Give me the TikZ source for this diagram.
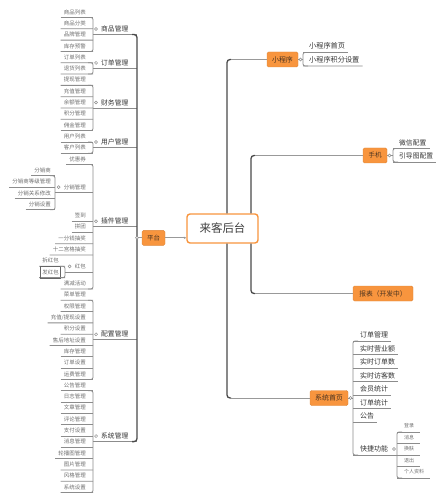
\documentclass[tikz,border=0pt]{standalone}
\usepackage{fontspec}
\setmainfont{Noto Sans CJK SC}
\usetikzlibrary{arrows.meta,calc}
\definecolor{org}{HTML}{F8953E}
\definecolor{orgtxt}{HTML}{4A3320}
\definecolor{leaftxt}{HTML}{6E6E6E}
\definecolor{ln}{HTML}{8C8C8C}
\definecolor{dk}{HTML}{4A4A4A}
\newcommand\mmleaf[4]{% index, right x, bracket x, text
  \pgfmathsetmacro\yy{12+11.31*(#1-1)}%
  \node[leaf] (L#1) at (#2,\yy) {#4};
  \draw[uline] (L#1.west) ++(-3,5.5) -- (#3,\yy+5.5);
}
\newcommand\mmlbr[3]{% x, first index, last index
  \pgfmathsetmacro\ya{12+11.31*(#2-1)+5.5}%
  \pgfmathsetmacro\yb{12+11.31*(#3-1)+5.5}%
  \draw[uline, rounded corners=2bp] (#1-5,\ya) -- (#1,\ya) -- (#1,\yb) -- (#1-5,\yb);
}
\newcommand\mmrbr[3]{% x, ytop, ybot
  \draw[uline, rounded corners=2bp] (#1+5,#2) -- (#1,#2) -- (#1,#3) -- (#1+5,#3);
}
\begin{document}
\begin{tikzpicture}[x=1bp,y=-1bp,
  leaf/.style={font=\fontsize{5.5}{6}\selectfont, text=leaftxt, inner sep=0pt, anchor=east},
  cat/.style={font=\fontsize{6.8}{8}\selectfont, text=black!80, inner sep=0pt, anchor=west},
  rleaf/.style={font=\fontsize{7}{8}\selectfont, text=black!80, inner sep=0pt, anchor=west},
  sleaf/.style={font=\fontsize{5}{6}\selectfont, text=leaftxt, inner sep=0pt, anchor=west},
  obox/.style={fill=org, draw=org!90!black, line width=0.4bp, rounded corners=1.5bp, text=orgtxt, font=\fontsize{6.5}{7}\selectfont, inner sep=0pt, minimum height=15bp},
  uline/.style={draw=ln, line width=0.8bp},
  hline/.style={draw=black!40, line width=1bp},
  spine/.style={draw=dk, line width=1.3bp},
  knob/.style={circle, draw=ln, fill=white, line width=0.5bp, inner sep=0pt, minimum size=3bp},
]
\useasboundingbox (0,0) rectangle (445,500);

% ---------- root ----------
\node[draw=org, line width=1.4bp, fill=white, rounded corners=3bp, minimum width=71bp, minimum height=29bp, font=\fontsize{11.5}{12}\selectfont, text=black!75] (root) at (222.5,228.5) {来客后台};

% ---------- left leaves ----------
\mmleaf{1}{86}{93}{商品列表}
\mmleaf{2}{86}{93}{商品分类}
\mmleaf{3}{86}{93}{品牌管理}
\mmleaf{4}{86}{93}{库存预警}
\mmleaf{5}{86}{93}{订单列表}
\mmleaf{6}{86}{93}{退货列表}
\mmleaf{7}{86}{93}{提现管理}
\mmleaf{8}{86}{93}{充值管理}
\mmleaf{9}{86}{93}{余额管理}
\mmleaf{10}{86}{93}{积分管理}
\mmleaf{11}{86}{93}{佣金管理}
\mmleaf{12}{86}{93}{用户列表}
\mmleaf{13}{86}{93}{客户列表}
\mmleaf{14}{86}{93}{优惠券}
\mmleaf{15}{51}{55}{分销商}
\mmleaf{16}{51}{55}{分销商等级管理}
\mmleaf{17}{51}{55}{分销关系修改}
\mmleaf{18}{51}{55}{分销设置}
\mmleaf{19}{86}{93}{签到}
\mmleaf{20}{86}{93}{拼团}
\mmleaf{21}{86}{93}{一分钱抽奖}
\mmleaf{22}{86}{93}{十二宫格抽奖}
\mmleaf{23}{59}{65}{拆红包}
\mmleaf{24}{59}{65}{发红包}
\mmleaf{25}{86}{93}{满减活动}
\mmleaf{26}{86}{93}{菜单管理}
\mmleaf{27}{86}{93}{权限管理}
\mmleaf{28}{86}{93}{充值/提现设置}
\mmleaf{29}{86}{93}{积分设置}
\mmleaf{30}{86}{93}{售后地址设置}
\mmleaf{31}{86}{93}{库存管理}
\mmleaf{32}{86}{93}{订单设置}
\mmleaf{33}{86}{93}{运费管理}
\mmleaf{34}{86}{93}{公告管理}
\mmleaf{35}{86}{93}{日志管理}
\mmleaf{36}{86}{93}{文章管理}
\mmleaf{37}{86}{93}{评论管理}
\mmleaf{38}{86}{93}{支付设置}
\mmleaf{39}{86}{93}{消息管理}
\mmleaf{40}{86}{93}{轮播图管理}
\mmleaf{41}{86}{93}{图片管理}
\mmleaf{42}{86}{93}{风格管理}
\mmleaf{43}{86}{93}{系统设置}
\draw[draw=black!60, line width=0.5bp] (40,266) rectangle (60.5,278);

% brackets
\mmlbr{93}{1}{4}
\mmlbr{93}{5}{6}
\mmlbr{93}{7}{11}
\mmlbr{93}{12}{13}
\mmlbr{93}{14}{25}
\mmlbr{93}{26}{33}
\mmlbr{93}{34}{43}
\mmlbr{55}{15}{18}
\mmlbr{65}{23}{24}

% sub-branches
\node[leaf] (fx) at (86,187.15) {分销管理};
\draw[uline] (55,192.65) -- (93,192.65);
\node[knob] at ($(fx.west)+(-5,0)$) {};
\node[leaf] (hb) at (86,266.45) {红包};
\draw[uline] (65,271.95) -- (93,271.95);
\node[knob] at ($(hb.west)+(-5,0)$) {};

% categories
\foreach \n/\y/\t in {c1/29.0/商品管理, c2/62.9/订单管理, c3/102.5/财务管理, c4/142.05/用户管理, c5/221.2/插件管理, c6/334.35/配置管理, c7/436.1/系统管理}{
  \node[cat] (\n) at (101,\y) {\t};
  \draw[uline] (93,\y+5.5) -- (137,\y+5.5);
  \node[knob] at (96,\y) {};
}
\draw[spine, rounded corners=3bp] (132,34.5) -- (137,34.5) -- (137,441.6) -- (132,441.6);

% 平台
\node[obox, minimum width=23bp] (pt) at (153.5,237.8) {平台};
\draw[hline] (137,237.8) -- (pt.west);
\draw[hline, -{Stealth[length=2.5bp,width=2.5bp]}] (pt.east) -- (pt.east -| root.west);
\node[knob] at (137,237.8) {};

% ---------- right side ----------
\node[obox, minimum width=31bp, font=\fontsize{7}{8}\selectfont] (xcx) at (282.5,59.5) {小程序};
\node[obox, minimum width=24bp] (sj) at (375,155.5) {手机};
\node[obox, minimum width=60bp, font=\fontsize{6.8}{8}\selectfont] (bb) at (383,293.5) {报表（开发中）};
\node[obox, minimum width=38bp, font=\fontsize{7}{8}\selectfont] (xt) at (329,398) {系统首页};

\coordinate (s1) at (227,0);
\coordinate (s2) at (251,0);
\draw[spine, rounded corners=3bp] (root.north -| s1) -- (s1 |- xcx) -- ++(4,0);
\draw[hline] ($(s1 |- xcx)+(4,0)$) -- (xcx.west);
\draw[spine, rounded corners=3bp] (root.south -| s1) -- (s1 |- xt) -- ++(4,0);
\draw[hline] ($(s1 |- xt)+(4,0)$) -- (xt.west);
\draw[spine, rounded corners=3bp] (root.north -| s2) -- (s2 |- sj) -- ++(4,0);
\draw[hline] ($(s2 |- sj)+(4,0)$) -- (sj.west);
\draw[spine, rounded corners=3bp] (root.south -| s2) -- (s2 |- bb) -- ++(4,0);
\draw[hline] ($(s2 |- bb)+(4,0)$) -- (bb.west);

% 小程序 children
\node[rleaf, font=\fontsize{7.2}{8}\selectfont] (x1) at (309,46) {小程序首页};
\node[rleaf, font=\fontsize{7.2}{8}\selectfont] (x2) at (309,59.5) {小程序积分设置};
\draw[uline] (303,52.5) -- ($(x1.east)+(3,6.5)$);
\draw[uline] (303,66) -- ($(x2.east)+(3,6.5)$);
\mmrbr{303}{52.5}{66}
\draw[uline] (xcx.east) -- (303,59.5);
\node[knob] at (300.5,59.5) {};

% 手机 children
\node[rleaf, font=\fontsize{6.8}{8}\selectfont] (m1) at (399,142.5) {微信配置};
\node[rleaf, font=\fontsize{6.8}{8}\selectfont] (m2) at (399,156) {引导图配置};
\draw[uline] (393,148.5) -- ($(m1.east)+(3,6)$);
\draw[uline] (393,162) -- ($(m2.east)+(3,6)$);
\mmrbr{393}{148.5}{162}
\draw[uline] (sj.east) -- (393,155.5);
\node[knob] at (389.5,155.5) {};

% 系统首页 children
\foreach \n/\y/\t in {h1/335/订单管理, h2/348.5/实时营业额, h3/362/实时订单数, h4/375.5/实时访客数, h5/389/会员统计, h6/402.5/订单统计, h7/416/公告}{
  \node[rleaf] (\n) at (360,\y) {\t};
  \draw[uline] (353,\y+6) -- ($(\n.east)+(3,6)$);
}
\node[rleaf] (h8) at (360,449) {快捷功能};
\draw[uline] (353,455) -- (397,455);
\node[knob] at (394,449) {};
\mmrbr{353}{341}{455}
\draw[uline] (xt.east) -- (353,398);
\node[knob] at (350.5,398) {};

% 快捷功能 children
\foreach \n/\y/\t in {k1/426/登录, k2/437.5/消息, k3/449/换肤, k4/460.5/退出, k5/472/个人资料}{
  \node[sleaf] (\n) at (404,\y) {\t};
  \draw[uline] (397,\y+6) -- ($(\n.east)+(6,6)$);
}
\mmrbr{397}{432}{478}
\end{tikzpicture}
\end{document}
